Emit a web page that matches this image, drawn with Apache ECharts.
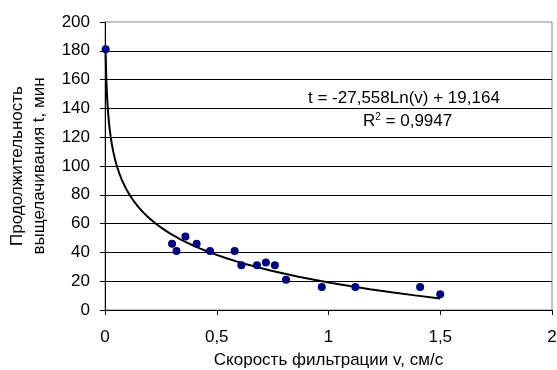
<!DOCTYPE html>
<html>
<head>
<meta charset="utf-8">
<script src="https://cdn.jsdelivr.net/npm/echarts@6/dist/echarts.min.js"></script>
<style>
  html, body { margin: 0; padding: 0; background: #fff; }
  #chart { width: 557px; height: 370px; }
</style>
</head>
<body>
<div id="chart"></div>
<script>
// measured points: filtration speed v (cm/s) vs leaching time t (min)
const velocity = [0.003, 0.30, 0.32, 0.36, 0.41, 0.47, 0.58, 0.61, 0.68, 0.72, 0.76, 0.81, 0.97, 1.12, 1.41, 1.50];
const duration = [181, 46, 41, 51, 46, 41, 41, 31, 31, 33, 31, 21, 16, 16, 16, 11];

// log trendline as printed on the chart
const trendA = -27.558;
const trendB = 19.164;
const trendFrom = 0.0028;
const trendTo = 1.5;
const trendLabel = 't = -27,558Ln(v) + 19,164';
const r2Label = '0,9947';

const points = velocity.map((v, i) => [v, duration[i]]);

const trend = [];
const steps = 80;
for (let i = 0; i <= steps; i++) {
    const v = trendFrom * Math.pow(trendTo / trendFrom, i / steps);
    trend.push([v, trendA * Math.log(v) + trendB]);
}

const font = 'Liberation Sans, Arial, sans-serif';
const fs = 17;
const chart = echarts.init(document.getElementById('chart'));

const option = {
    animation: false,
    grid: {
        left: 105, right: 5, top: 22, bottom: 60,
        containLabel: false,
        outerBoundsMode: 'none',
        show: true,
        borderColor: '#808080',
        borderWidth: 1
    },
    xAxis: {
        type: 'value',
        min: 0, max: 2, interval: 0.5,
        name: 'Скорость фильтрации v, см/с',
        nameLocation: 'middle',
        nameGap: 42,
        nameTextStyle: { color: '#000', fontSize: fs, fontFamily: font },
        axisLine: { lineStyle: { color: '#000', width: 1 } },
        axisTick: { show: true, length: 5, lineStyle: { color: '#000' } },
        axisLabel: {
            color: '#000', fontSize: fs, fontFamily: font, margin: 19,
            formatter: (val) => String(val).replace('.', ',')
        },
        splitLine: { show: false }
    },
    yAxis: {
        type: 'value',
        min: 0, max: 200, interval: 20,
        name: 'Продолжительность\nвыщелачивания t, мин',
        nameLocation: 'middle',
        nameGap: 54,
        nameTextStyle: { color: '#000', fontSize: fs, fontFamily: font, lineHeight: 22 },
        axisLine: { show: true, lineStyle: { color: '#000', width: 1 } },
        axisTick: { show: true, length: 5, lineStyle: { color: '#000' } },
        axisLabel: { color: '#000', fontSize: fs, fontFamily: font, margin: 15 },
        splitLine: { show: true, showMaxLine: false, lineStyle: { color: '#000', width: 1 } }
    },
    series: [
        {
            type: 'line',
            data: trend,
            showSymbol: false,
            symbol: 'none',
            lineStyle: { color: '#000', width: 2 },
            z: 2
        },
        {
            type: 'scatter',
            data: points,
            symbolSize: 8,
            itemStyle: { color: '#000080', opacity: 1 },
            z: 3
        }
    ],
    graphic: [
        {
            type: 'text',
            left: 308, top: 90,
            style: { text: trendLabel, fill: '#000', font: fs + 'px ' + font }
        },
        {
            type: 'text',
            left: 363, top: 112,
            style: {
                text: '{n|R}{s|2}{n| = ' + r2Label + '}',
                rich: {
                    n: { fill: '#000', fontSize: fs, fontFamily: font },
                    s: { fill: '#000', fontSize: 10, fontFamily: font, verticalAlign: 'top', padding: [0, 0, 8, 0] }
                }
            }
        }
    ]
};

chart.setOption(option);
</script>
</body>
</html>
